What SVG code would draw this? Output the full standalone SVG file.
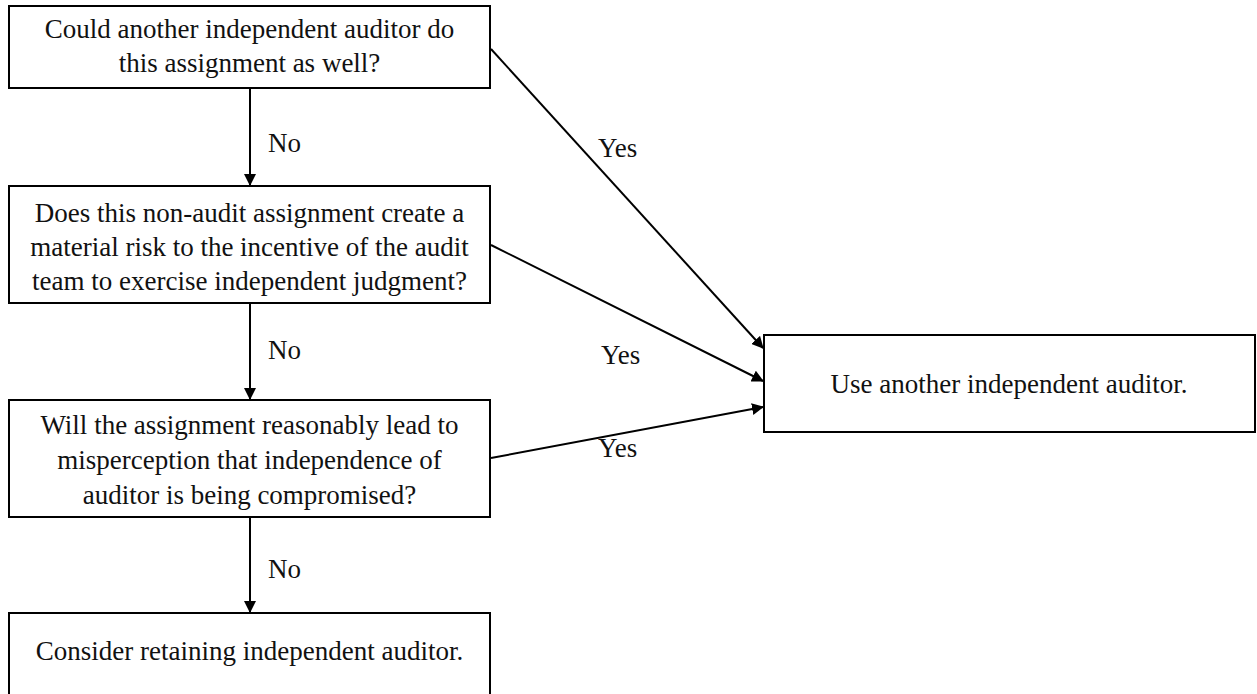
<svg xmlns="http://www.w3.org/2000/svg" width="1257" height="694" viewBox="0 0 1257 694">
<style>
.box{fill:#fff;stroke:#000;stroke-width:2}
.t{font-family:"Liberation Serif","Times New Roman",serif;font-size:27px;fill:#111;text-anchor:middle}
.lbl{font-family:"Liberation Serif","Times New Roman",serif;font-size:27px;fill:#111}
.c{stroke:#000;stroke-width:2;fill:none;marker-end:url(#ah)}
</style>
<defs>
<marker id="ah" markerWidth="12" markerHeight="12" refX="11" refY="6" orient="auto" markerUnits="userSpaceOnUse">
<path d="M0,0 L12,6 L0,12 Z" fill="#000"/>
</marker>
</defs>
<rect width="1257" height="694" fill="#fff"/>
<g id="connectors">
<line class="c" x1="250" y1="89" x2="250" y2="185"/>
<line class="c" x1="250" y1="304" x2="250" y2="399"/>
<line class="c" x1="250" y1="518" x2="250" y2="612"/>
<line class="c" x1="491" y1="49" x2="763" y2="348"/>
<line class="c" x1="491" y1="245" x2="763" y2="381"/>
<line class="c" x1="491" y1="458" x2="763" y2="407"/>
<text class="lbl" x="268" y="152">No</text>
<text class="lbl" x="268" y="359">No</text>
<text class="lbl" x="268" y="578">No</text>
<text class="lbl" x="598" y="157">Yes</text>
<text class="lbl" x="601" y="364">Yes</text>
<text class="lbl" x="598" y="457">Yes</text>
</g>
<g id="n1">
<rect class="box" x="9" y="6" width="481" height="82"/>
<text class="t" x="249.5" y="38">Could another independent auditor do</text>
<text class="t" x="249.5" y="72">this assignment as well?</text>
</g>
<g id="n2">
<rect class="box" x="9" y="186" width="481" height="117"/>
<text class="t" x="249.5" y="222">Does this non-audit assignment create a</text>
<text class="t" x="249.5" y="256">material risk to the incentive of the audit</text>
<text class="t" x="249.5" y="290">team to exercise independent judgment?</text>
</g>
<g id="n3">
<rect class="box" x="9" y="400" width="481" height="117"/>
<text class="t" x="249.5" y="434">Will the assignment reasonably lead to</text>
<text class="t" x="249.5" y="469">misperception that independence of</text>
<text class="t" x="249.5" y="504">auditor is being compromised?</text>
</g>
<g id="n4">
<rect class="box" x="9" y="613" width="481" height="84"/>
<text class="t" x="249.5" y="660">Consider retaining independent auditor.</text>
</g>
<g id="n5">
<rect class="box" x="764" y="335" width="491" height="97"/>
<text class="t" x="1009" y="393">Use another independent auditor.</text>
</g>
</svg>
